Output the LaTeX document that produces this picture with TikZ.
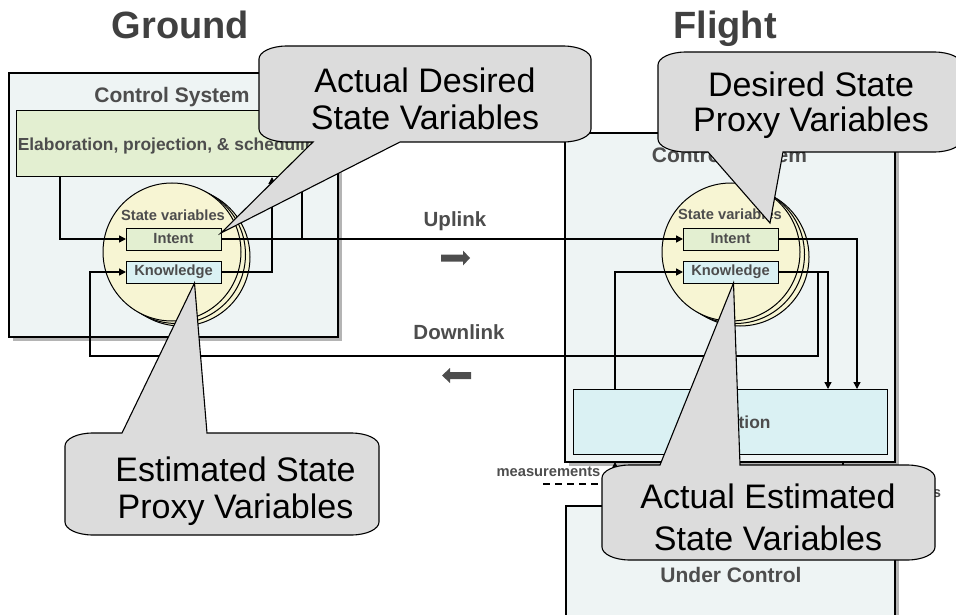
\documentclass[tikz,border=0pt]{standalone}
\usepackage{fontspec}
\setmainfont{Liberation Sans}
\usetikzlibrary{arrows.meta,shadows}

\definecolor{sysfill}{HTML}{EEF4F4}
\definecolor{elabfill}{HTML}{E3EFD1}
\definecolor{knowfill}{HTML}{DAF1F3}
\definecolor{svfill}{HTML}{F7F5D3}
\definecolor{callfill}{HTML}{DCDCDC}
\definecolor{labelgray}{HTML}{4D4D4D}
\definecolor{titlegray}{HTML}{404040}
\definecolor{shadowgray}{HTML}{B4B4B4}

\begin{document}
\begin{tikzpicture}[x=1pt,y=-1pt,
  every node/.style={inner sep=0pt,outer sep=0pt},
  headfont/.style={font=\fontsize{38}{40}\selectfont\bfseries,text=titlegray},
  sysfont/.style={font=\fontsize{21}{24}\selectfont\bfseries,text=labelgray},
  midfont/.style={font=\fontsize{17.4}{20}\selectfont\bfseries,text=labelgray},
  varfont/.style={font=\fontsize{14.7}{16}\selectfont\bfseries,text=labelgray},
  linkfont/.style={font=\fontsize{20.5}{24}\selectfont\bfseries,text=labelgray},
  calltext/.style={font=\fontsize{34}{40}\selectfont,text=black},
  sysbox/.style={draw,line width=1.1pt,fill=sysfill,
    drop shadow={fill=shadowgray,opacity=1,shadow xshift=4pt,shadow yshift=-4pt}},
  svball/.style={circle,draw,line width=1pt,fill=svfill,minimum size=138pt,
    copy shadow={fill=svfill,draw=black,line width=1pt,shadow xshift=9pt,shadow yshift=-5pt},
    copy shadow={fill=svfill,draw=black,line width=1pt,shadow xshift=4.5pt,shadow yshift=-2.5pt}},
  var/.style={draw,line width=1pt,minimum width=95pt,minimum height=22pt,varfont},
  bubble/.style={draw,line width=1.1pt,fill=callfill},
  wire/.style={line width=1.4pt,-{Triangle[length=7pt,width=7pt]}}]
  \useasboundingbox (0,0) rectangle (956,615);
  \clip (0,0) rectangle (956,615);

  \node[headfont,anchor=base] (groundT) at (180.5,39) {Ground};
  \node[headfont,anchor=base] (flightT) at (725,39) {Flight};

  % ground side
  \node[sysbox,minimum width=329pt,minimum height=264pt] (ctrlG) at (173.5,205) {};
  \node[sysfont,anchor=base] (ctrlGT) at (172,103) {Control System};
  \node[draw,line width=1pt,fill=elabfill,minimum width=314pt,minimum height=66pt] (elabG) at (173,144) {};
  \node[midfont,anchor=base] (elabGT) at (172,150.5) {Elaboration, projection, \& scheduling};
  \node[svball] (svG) at (172,252) {};
  \node[varfont,anchor=base] (svGT) at (173,220) {State variables};
  \node[var,fill=elabfill] (intentG) at (173.5,239) {Intent};
  \node[var,fill=knowfill] (knowledgeG) at (173.5,272) {Knowledge};

  % flight side
  \node[sysbox,minimum width=330pt,minimum height=329pt] (ctrlF) at (730,297.5) {};
  \node[sysfont,anchor=base] (ctrlFT) at (729.5,163) {Control System};
  \node[draw,line width=1pt,fill=knowfill,minimum width=314pt,minimum height=65pt] (exec) at (730,421.5) {};
  \node[midfont,anchor=base] (execT) at (729,428) {Execution};
  \node[sysbox,minimum width=329pt,minimum height=140pt] (plant) at (730.5,576) {};
  \node[sysfont,anchor=base] (plantT) at (731,582) {Under Control};
  \node[svball] (svF) at (731,252) {};
  \node[varfont,anchor=base] (svFT) at (730,219) {State variables};
  \node[var,fill=elabfill] (intentF) at (730.5,239) {Intent};
  \node[var,fill=knowfill] (knowledgeF) at (730.5,272) {Knowledge};

  % wires
  \draw[wire] ([xshift=44pt]elabG.south west) |- (intentG.west);
  \draw[wire] (knowledgeG.east) -| ([xshift=256pt]elabG.south west);
  \draw[wire] (intentG.east) -| ([xshift=286pt]elabG.south west);
  \draw[wire] (intentG.east) -- (intentF.west);
  \coordinate (dlR) at (818,356);
  \coordinate (dlL) at (90,356);
  \draw[wire] (knowledgeF.east) -| (dlR) -- (dlL) |- (knowledgeG.west);
  \draw[wire] (knowledgeF.east) -| ([xshift=255pt]exec.north west);
  \draw[wire] (intentF.east) -| ([xshift=284pt]exec.north west);
  \draw[wire] ([xshift=42pt]exec.north west) |- (knowledgeF.west);
  \coordinate (measIn) at (543,484);
  \draw[wire,line width=1.2pt,dash pattern=on 7pt off 5pt] (measIn) -| ([xshift=50pt]ctrlF.south west);
  \draw[wire] ([xshift=278pt]ctrlF.south west) -- ([xshift=278pt]ctrlF.south west |- plant.north);
  \node[varfont,anchor=base] (measT) at (548.5,476) {measurements};
  \node[varfont,anchor=base east] (cmdT) at (941,497) {commands};

  % links
  \node[linkfont,anchor=base] (upT) at (455,226) {Uplink};
  \node[linkfont,anchor=base] (downT) at (459,339) {Downlink};
  \fill[labelgray] (441,254.5) -- (463,254.5) -- (463,250.5) -- (470,258) -- (463,265.5) -- (463,261.5) -- (441,261.5) -- cycle;
  \fill[labelgray] (471,372) -- (450,372) -- (450,368) -- (442,375.5) -- (450,383) -- (450,379) -- (471,379) -- cycle;

  % callouts
  \draw[bubble] (259,59) .. controls (259,52) and (271,46) .. (287,46) -- (563,46) .. controls (579,46) and (591,52) .. (591,59)
    -- (591,129) .. controls (591,136) and (579,142) .. (563,142) -- (400,142) -- ([yshift=6pt]intentG.east) -- (313,142)
    -- (287,142) .. controls (271,142) and (259,136) .. (259,129) -- cycle;
  \node[calltext,anchor=base] (c1a) at (425,93) {Actual Desired};
  \node[calltext,anchor=base] (c1b) at (425,130) {State Variables};

  \draw[bubble] (658,65) .. controls (658,58) and (670,52) .. (686,52) -- (934,52) .. controls (950,52) and (962,58) .. (962,65)
    -- (962,139) .. controls (962,146) and (950,152) .. (934,152) -- (783,152) -- ([shift={(-8pt,5pt)}]intentF.north east) -- (708,152)
    -- (686,152) .. controls (670,152) and (658,146) .. (658,139) -- cycle;
  \node[calltext,anchor=base] (c2a) at (811,97) {Desired State};
  \node[calltext,anchor=base] (c2b) at (811,132) {Proxy Variables};

  \draw[bubble] (65,446) .. controls (65,439) and (77,433) .. (93,433) -- (122,433) -- ([xshift=21pt]knowledgeG.south) -- (207,433)
    -- (351,433) .. controls (367,433) and (379,439) .. (379,446) -- (379,522) .. controls (379,529) and (367,535) .. (351,535)
    -- (93,535) .. controls (77,535) and (65,529) .. (65,522) -- cycle;
  \node[calltext,anchor=base] (c3a) at (235.5,481.5) {Estimated State};
  \node[calltext,anchor=base] (c3b) at (235.5,518) {Proxy Variables};

  \draw[bubble] (602,478) .. controls (602,471) and (614,465) .. (630,465) -- (660,465) -- ([xshift=3pt]knowledgeF.south) -- (740,465)
    -- (907,465) .. controls (923,465) and (935,471) .. (935,478) -- (935,547) .. controls (935,554) and (923,560) .. (907,560)
    -- (630,560) .. controls (614,560) and (602,554) .. (602,547) -- cycle;
  \node[calltext,anchor=base] (c4a) at (768,508.5) {Actual Estimated};
  \node[calltext,anchor=base] (c4b) at (768,550.5) {State Variables};
\end{tikzpicture}
\end{document}
